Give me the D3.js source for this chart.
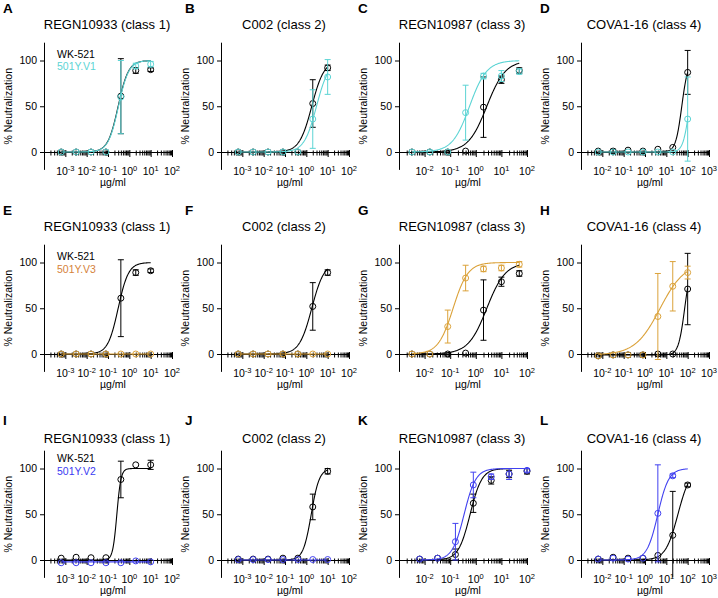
<!DOCTYPE html>
<html><head><meta charset="utf-8">
<script src="https://cdn.jsdelivr.net/npm/d3@7"></script>
<style>
body{margin:0;background:#fff}
svg{display:block}
text{font-family:"Liberation Sans",Arial,Helvetica,sans-serif;fill:#000}
</style>
</head><body>
<svg id="chart" width="718" height="598"></svg>
<script>
// ---------------- DATA ----------------
const panelLetters = ['A','B','C','D','E','F','G','H','I','J','K','L'];
const antibodies = ['REGN10933 (class 1)','C002 (class 2)','REGN10987 (class 3)','COVA1-16 (class 4)'];
const refName = 'WK-521';
const variantNames = ['501Y.V1','501Y.V3','501Y.V2'];
const variantColors = ['#5cd4d4','#dba23a','#4141f0'];
const variantTextColors = ['#5cd4d4','#d5823a','#3b3bf2'];
const xDomainExp = [[-4,2],[-4,2],[-3,2],[-3,3]];   // log10 range per column
const yTicks = [0,50,100];
const yAxisRange = [-19,120];

const concLow  = [0.00064,0.0032,0.016,0.08,0.4,2,10];
const concMid  = [0.0032,0.016,0.08,0.4,2,10,50];
const concHigh = [0.0064,0.032,0.16,0.8,4,20,100];
const panelConc = [concLow,concLow,concMid,concHigh,
                   concLow,concLow,concMid,concHigh,
                   concLow,concLow,concHigh,concHigh];

// WK-521 mean % neutralization and error per panel
const wkValues = [
  [0,0,0,0,61,89,90],
  [0,0,0,0,0,53,92],
  [0,0,0,1,49,79,89],
  [1,1,2,1,3,5,87],
  [0,0,0,0,61,89,91],
  [0,0,0,0,0,52,89],
  [0,0,0,1,48,79,88],
  [-2,-1,-1,-1,0,0,71],
  [2,3,2.5,2.5,88,104,104],
  [1,1,1,2,2,58,97],
  [1,2,6,62,87,94,97],
  [1,3,2,2,5,27,82]
];
const wkErrors = [
  [0,0,0,0,41,3,2],
  [0,0,0,0,1,26,3],
  [0,0,0,0,33,4,3],
  [0,2,0,0,0,0,24],
  [0,0,0,0,42,3,2],
  [0,0,0,0,1,26,3],
  [0,0,0,0,33,5,3],
  [0,0,0,0,0,0,39],
  [0,0,0,0,20,0,5],
  [0,0,0,0,0,14,3],
  [0,0,6,10,4,4,3],
  [0,0,0,0,0,48,2]
];
// Variant mean % neutralization and error per panel
const varValues = [
  [0,0,0,0,60,94,96],
  [0,0,0,0,0,36,82],
  [0,0,0,43,83,83,88],
  [0,0,0,0,0,0,36],
  [0,0,0,0,0,0,0],
  [0,0,0,0,0,0,0],
  [0,0,30,83,93,94,98],
  [-2,-1,-1,-1,41,74,89],
  [-3,-3,-3,-3,-3,-1,-2],
  [0.5,0.5,0.5,0.5,0.5,0.5,0.5],
  [1,2,20,82,91,94,98],
  [1,2,1,2,51,92,null]
];
const varErrors = [
  [0,0,0,0,40,3,3],
  [0,0,0,0,0,32,19],
  [0,0,0,30,3,6,3],
  [0,0,0,0,0,0,46],
  [0,0,0,0,0,0,0],
  [0,0,0,0,0,0,0],
  [0,0,18,14,3,3,3],
  [0,0,0,0,47,27,7],
  [0,0,0,0,0,0,0],
  [0,0,0,0,0,0,0],
  [0,0,20,14,3,6,2],
  [0,0,0,0,53,2,0]
];
// Fitted dose-response parameters
const wkIC50   = [0.30,1.8,2.7,53, 0.30,1.8,2.7,72, 0.26,1.7,0.6,35];
const wkHill   = [1.8,1.5,1.2,3, 1.8,1.5,1.2,3, 4.5,2.3,1.9,1.5];
const wkTop    = [100,100,100,100, 100,100,100,100, 100,100,100,100];
const wkBottom = [0,0,0,0, 0,0,0,-1, 0,0,0,0];
const varIC50   = [0.31,3.0,0.57,121, 1,1,0.13,5, 1,1,0.35,4];
const varHill   = [1.8,1.5,1.3,3, 1,1,1.5,0.75, 1,1,1.9,1.7];
const varTop    = [100,100,100,100, 0,0,100,100, -2,0,100,100];
const varBottom = [0,0,0,0, 0,0,0,-1, -2,0,0,0];

// ---------------- LAYOUT ----------------
const colX = [44, 221, 399, 581];
const rowZero = [152, 354, 560];
const unit100 = 91.5;
const xWidth = 128;
const titleBase = [29, 231, 443];
const letterBase = [13, 215, 425];
const letterX = [3, 185, 358, 540];
const legendBase = [57.5, 260, 462];

const svg = d3.select('#chart');

function logistic(x, ic50, h, top, bottom){
  return bottom + (top - bottom) / (1 + Math.pow(ic50 / x, h));
}

for (let p = 0; p < 12; p++) {
  const r = Math.floor(p / 4), c = p % 4;
  const g = svg.append('g');
  const x0 = colX[c], z = rowZero[r];
  const [e0, e1] = xDomainExp[c];
  const x = d3.scaleLog().domain([Math.pow(10,e0), Math.pow(10,e1)]).range([x0, x0 + xWidth]);
  const y = d3.scaleLinear().domain([0,100]).range([z, z - unit100]);
  const yAx = d3.scaleLinear().domain(yAxisRange).range([y(yAxisRange[0]), y(yAxisRange[1])]);

  // panel letter & title
  g.append('text').attr('x', letterX[c]).attr('y', letterBase[r])
    .attr('font-size', 13.5).attr('font-weight', 'bold').text(panelLetters[p]);
  g.append('text').attr('x', x0 + 63).attr('y', titleBase[r])
    .attr('text-anchor', 'middle').attr('font-size', 13).text(antibodies[c]);

  // y axis
  const ya = g.append('g').attr('transform', `translate(${x0},0)`)
    .call(d3.axisLeft(yAx).tickValues(yTicks).tickSize(4).tickSizeOuter(0).tickPadding(3));
  ya.selectAll('text').attr('font-size', 10.5).attr('font-family', null);
  ya.selectAll('path,line').attr('stroke', '#000');

  // x axis: minor ticks
  const decades = d3.range(e0, e1 + 1).map(e => Math.pow(10, e));
  const minors = [];
  for (let e = e0; e < e1; e++) for (let k = 2; k <= 9; k++) minors.push(k * Math.pow(10, e));
  const xa = g.append('g').attr('transform', `translate(0,${z})`)
    .call(d3.axisBottom(x).tickValues(minors).tickSize(3.5).tickSizeOuter(0).tickFormat(''));
  xa.selectAll('line').attr('y1', -1.5);
  const xb = g.append('g').attr('transform', `translate(0,${z})`)
    .call(d3.axisBottom(x).tickValues(decades).tickSize(5).tickSizeOuter(0).tickFormat(''));
  xb.selectAll('line').attr('y1', -2);
  g.selectAll('path.domain, .tick line').attr('stroke', '#000');

  decades.filter(d => d > Math.pow(10, e0) * 1.0001).forEach(d => {
    const ex = Math.round(Math.log10(d));
    const t = g.append('text').attr('x', x(d)).attr('y', z + 23)
      .attr('text-anchor', 'middle').attr('font-size', 10.5);
    t.append('tspan').text('10');
    t.append('tspan').attr('dy', -4.5).attr('font-size', 7.5).text(String(ex).replace('-', '-'));
  });

  // axis titles
  g.append('text').attr('x', x0 + 69).attr('y', z + 33.5)
    .attr('text-anchor', 'middle').attr('font-size', 10.5).text('µg/ml');
  g.append('text').attr('transform', `translate(${x0 - 32},${y(50)}) rotate(-90)`)
    .attr('text-anchor', 'middle').attr('font-size', 10.5).text('% Neutralization');

  // legend (first column)
  if (c === 0) {
    g.append('text').attr('x', x0 + 13).attr('y', legendBase[r])
      .attr('font-size', 10.5).text(refName);
    g.append('text').attr('x', x0 + 13).attr('y', legendBase[r] + 12.5)
      .attr('font-size', 10.5).style('fill', variantTextColors[r]).text(variantNames[r]);
  }

  const conc = panelConc[p];
  const series = [
    {vals: wkValues[p], errs: wkErrors[p], fit: [wkIC50[p], wkHill[p], wkTop[p], wkBottom[p]], color: '#000'},
    {vals: varValues[p], errs: varErrors[p], fit: [varIC50[p], varHill[p], varTop[p], varBottom[p]], color: variantColors[r]}
  ];
  const clampY = v => Math.max(yAxisRange[0], Math.min(yAxisRange[1], v));
  series.forEach(s => {
    const cmin = d3.min(conc), cmax = d3.max(conc);
    const lx = d3.range(0, 201).map(i => cmin * Math.pow(cmax / cmin, i / 200));
    const line = d3.line().x(d => x(d)).y(d => y(logistic(d, ...s.fit)));
    g.append('path').datum(lx).attr('d', line).attr('fill', 'none')
      .attr('stroke', s.color).attr('stroke-width', 1.1);
    const pts = conc.map((cc, i) => ({c: cc, v: s.vals[i], e: s.errs[i]})).filter(d => d.v !== null);
    pts.filter(d => d.e > 1.5).forEach(d => {
      const xx = x(d.c), hi = y(clampY(d.v + d.e)), lo = y(clampY(d.v - d.e));
      g.append('line').attr('x1', xx).attr('x2', xx).attr('y1', hi).attr('y2', lo)
        .attr('stroke', s.color).attr('stroke-width', 1);
      if (d.v + d.e <= yAxisRange[1]) g.append('line').attr('x1', xx - 3).attr('x2', xx + 3).attr('y1', hi).attr('y2', hi)
        .attr('stroke', s.color).attr('stroke-width', 1);
      if (d.v - d.e >= yAxisRange[0]) g.append('line').attr('x1', xx - 3).attr('x2', xx + 3).attr('y1', lo).attr('y2', lo)
        .attr('stroke', s.color).attr('stroke-width', 1);
    });
    g.selectAll(null).data(pts).enter().append('circle')
      .attr('cx', d => x(d.c)).attr('cy', d => y(d.v)).attr('r', 3)
      .attr('fill', 'none').attr('stroke', s.color).attr('stroke-width', 1);
  });
}
</script>
</body></html>
